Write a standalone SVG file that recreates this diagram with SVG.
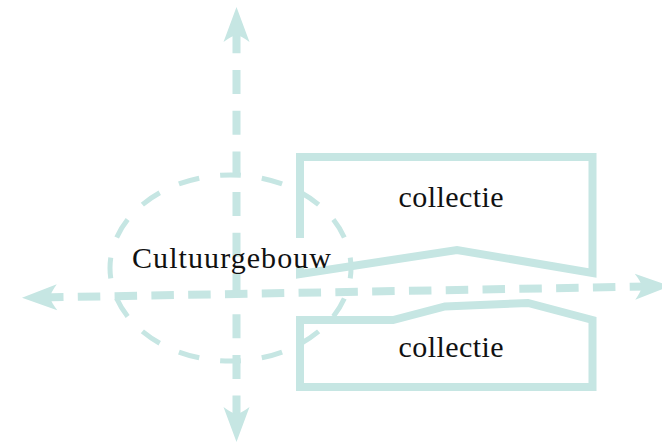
<svg xmlns="http://www.w3.org/2000/svg" xmlns:xlink="http://www.w3.org/1999/xlink" width="662" height="443" viewBox="0 0 662 443">
  <style>
    .axis { fill: none; stroke: #c6e6e3; stroke-width: 8; stroke-linecap: butt; }
    .head { fill: #c6e6e3; stroke: none; }
    .box { fill: none; stroke: #c6e6e3; stroke-width: 8; stroke-linejoin: miter; }
    .ell { fill: none; stroke: #c6e6e3; stroke-width: 5; }
    .lbl { font-family: "Liberation Serif", "Times New Roman", serif; font-size: 30px; fill: #111111; }
  </style>
  <defs>
    <path id="ah" d="M0,0 L-35,-13 Q-29,-5 -28,0 Q-29,5 -35,13 Z"/>
  </defs>
  <rect width="662" height="443" fill="#ffffff"/>

  <g id="connectors">
    <path class="axis" d="M236.5,29.3 L236.5,417" stroke-dasharray="24 16.7"/>
    <use xlink:href="#ah" class="head" transform="translate(236.5,7) rotate(-90)"/>
    <use xlink:href="#ah" class="head" transform="translate(236.5,442) rotate(90)"/>
    <path class="axis" d="M41,297.46 L655,286.4" stroke-dasharray="22.5 14.3"/>
    <use xlink:href="#ah" class="head" transform="translate(22,297.8) rotate(178.97)"/>
    <use xlink:href="#ah" class="head" transform="translate(670,286.1) rotate(-1.03)"/>
  </g>

  <g id="cultuurgebouw">
    <ellipse class="ell" cx="230.5" cy="268" rx="120.5" ry="93" pathLength="640" stroke-dasharray="20 20" stroke-dashoffset="10"/>
  </g>

  <g id="collectie-boven">
    <polygon class="box" points="300,157 592.5,157 592.5,273 457,250 300,274"/>
    <text class="lbl" x="398.5" y="207.3" textLength="105" lengthAdjust="spacing">collectie</text>
  </g>

  <g id="collectie-onder">
    <polygon class="box" points="300,320 393,320 445,306.5 528,303 592.5,320 592.5,387 300,387"/>
    <text class="lbl" x="398.5" y="357.3" textLength="105" lengthAdjust="spacing">collectie</text>
  </g>

  <g id="cultuurgebouw-label">
    <rect x="294" y="238" width="11" height="28" fill="#ffffff"/>
    <text class="lbl" x="132" y="268" textLength="199" lengthAdjust="spacing">Cultuurgebouw</text>
  </g>
</svg>
